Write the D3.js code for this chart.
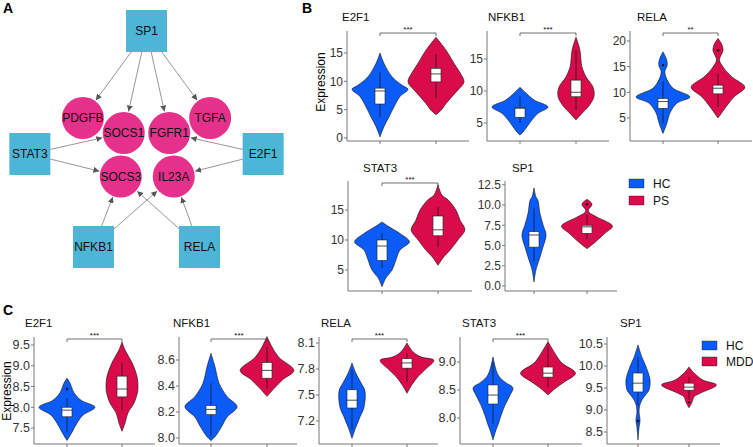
<!DOCTYPE html>
<html><head><meta charset="utf-8">
<script src="https://cdn.jsdelivr.net/npm/d3@7"></script>
<style>
body{margin:0;background:#fff;}
svg{font-family:"Liberation Sans",Arial,sans-serif;}
</style></head>
<body><svg id="c" width="753" height="447"></svg>
<script>
// ---------------- DATA ----------------
// Panel A network
const netNodes = [
  {id:"SP1",type:"tf",gx:0,gy:-4.1},
  {id:"STAT3",type:"tf",gx:-3.85,gy:0},
  {id:"E2F1",type:"tf",gx:3.85,gy:0},
  {id:"NFKB1",type:"tf",gx:-1.75,gy:3.1},
  {id:"RELA",type:"tf",gx:1.75,gy:3.1},
  {id:"PDGFB",type:"target",gx:-2.1,gy:-1.2},
  {id:"SOCS1",type:"target",gx:-0.75,gy:-0.7},
  {id:"FGFR1",type:"target",gx:0.75,gy:-0.7},
  {id:"TGFA",type:"target",gx:2.1,gy:-1.2},
  {id:"SOCS3",type:"target",gx:-0.85,gy:0.75},
  {id:"IL23A",type:"target",gx:0.9,gy:0.75}
];
const netEdges = [
  ["SP1","PDGFB"],["SP1","SOCS1"],["SP1","FGFR1"],["SP1","TGFA"],
  ["STAT3","SOCS1"],["STAT3","SOCS3"],
  ["E2F1","FGFR1"],["E2F1","IL23A"],
  ["NFKB1","SOCS3"],["NFKB1","IL23A"],
  ["RELA","SOCS3"],["RELA","IL23A"]
];

// Violin genes and groups
const genes = ["E2F1","NFKB1","RELA","STAT3","SP1"];
const groupsB = ["HC","PS"];
const groupsC = ["HC","MDD"];

// tick labels
const ticksB = {E2F1:[0,5,10,15],NFKB1:[5,10,15],RELA:[5,10,15,20],STAT3:[5,10,15],SP1:[0,2.5,5,7.5,10,12.5]};
const ticksC = {E2F1:[7.5,8,8.5,9,9.5],NFKB1:[8.0,8.2,8.4,8.6],RELA:[7.2,7.5,7.8,8.1],STAT3:[8.0,8.5,9.0],SP1:[8.5,9,9.5,10,10.5]};

// density profiles [value, relative half-width], top to bottom
const densB = {
  E2F1:{HC:[[15,0],[13.2,0.14],[10.8,0.43],[9.3,0.79],[8.6,1],[7.3,0.71],[5.5,0.5],[3.7,0.32],[2,0.14],[0.2,0]],
        PS:[[17.8,0],[15.5,0.36],[13.2,0.64],[11.5,0.86],[9.9,1],[8.5,0.79],[7.3,0.57],[6.1,0.36],[4.9,0.18],[4.1,0]]},
  NFKB1:{HC:[[10.6,0],[9.8,0.18],[8.6,0.5],[7.5,1],[6.5,0.64],[5.5,0.43],[4.4,0.25],[3.6,0.11],[3.1,0]],
        PS:[[18.4,0],[16.4,0.14],[13.8,0.21],[12.2,0.36],[10.6,0.61],[9.1,0.64],[7.5,0.43],[6.5,0.21],[5.5,0]]},
  RELA:{HC:[[17.9,0],[16.5,0.12],[15.3,0.15],[14.2,0.07],[13.7,0.07],[12.4,0.15],[10.8,0.36],[9.1,0.96],[7.9,0.5],[6,0.25],[4,0.14],[2,0]],
        PS:[[20.5,0],[19.5,0.12],[18.2,0.18],[16.9,0.08],[16.3,0.05],[14.7,0.21],[13,0.5],[11,0.96],[9.1,0.57],[7.2,0.29],[5,0]]},
  STAT3:{HC:[[13,0],[12.2,0.25],[11.1,0.64],[9.7,0.98],[8.3,0.64],[6.7,0.5],[5,0.36],[3.7,0.14],[2.2,0]],
        PS:[[19.2,0],[17.5,0.14],[16.7,0.36],[15,0.64],[13.3,0.79],[11.7,0.96],[10,0.71],[8.3,0.43],[7.2,0.21],[5.8,0]]},
  SP1:{HC:[[12.1,0],[11,0.07],[10.6,0.14],[9,0.21],[7.6,0.32],[6.3,0.43],[4.8,0.32],[3.2,0.18],[2,0.07],[0.5,0]],
        PS:[[10.7,0],[10.1,0.18],[9.4,0.05],[9.1,0.07],[8.5,0.36],[7.4,0.91],[6.5,0.64],[5.4,0.29],[4.6,0]]}
};
const densC = {
  E2F1:{HC:[[8.7,0],[8.58,0.11],[8.35,0.25],[8.17,0.5],[8.0,1],[7.81,0.57],[7.62,0.36],[7.4,0.18],[7.2,0]],
        MDD:[[9.57,0],[9.38,0.11],[9.07,0.36],[8.73,0.54],[8.45,0.57],[8.35,0.55],[8.1,0.43],[7.86,0.21],[7.62,0.11],[7.42,0]]},
  NFKB1:{HC:[[8.65,0],[8.55,0.14],[8.42,0.29],[8.32,0.57],[8.24,0.93],[8.16,0.57],[8.08,0.36],[8.02,0.18],[7.98,0]],
        MDD:[[8.78,0],[8.7,0.18],[8.62,0.43],[8.52,0.96],[8.45,0.57],[8.38,0.25],[8.32,0]]},
  RELA:{HC:[[7.87,0],[7.75,0.14],[7.64,0.32],[7.55,0.46],[7.36,0.43],[7.25,0.29],[7.13,0.14],[7.0,0]],
        MDD:[[8.1,0],[8.0,0.21],[7.94,0.5],[7.9,0.96],[7.79,0.64],[7.7,0.36],[7.62,0.18],[7.52,0]]},
  STAT3:{HC:[[9.09,0],[8.77,0.18],[8.64,0.43],[8.54,0.71],[8.41,0.61],[8.23,0.43],[8.05,0.29],[7.88,0.18],[7.79,0.11],[7.61,0]],
        MDD:[[9.36,0],[9.27,0.11],[9.12,0.29],[8.98,0.5],[8.8,0.98],[8.64,0.57],[8.54,0.29],[8.41,0]]},
  SP1:{HC:[[10.48,0],[10.2,0.14],[9.98,0.29],[9.68,0.43],[9.45,0.39],[9.36,0.29],[9.23,0.14],[9.07,0.05],[8.93,0.04],[8.8,0.07],[8.73,0.07],[8.62,0.04],[8.32,0]],
        MDD:[[9.98,0],[9.84,0.18],[9.68,0.5],[9.57,0.98],[9.39,0.43],[9.3,0.18],[9.18,0.11],[9.05,0]]}
};
// box stats [whiskerLow, q1, median, q3, whiskerHigh]
const boxB = {
  E2F1:{HC:[3.7,6.0,8.3,8.8,11.6],PS:[7.0,9.9,11.3,12.3,14.8]},
  NFKB1:{HC:[5.0,5.9,7.3,7.4,9.1],PS:[7.0,9.1,9.8,11.7,16.4]},
  RELA:{HC:[4.0,6.9,8.2,8.8,12.1],PS:[7.2,9.7,10.8,11.4,13.6]},
  STAT3:{HC:[5.3,6.6,9.0,10.0,11.1],PS:[8.8,10.7,11.7,14.0,15.5]},
  SP1:{HC:[3.0,4.8,6.3,6.7,9.6],PS:[5.8,6.5,7.3,7.5,8.8]}
};
const boxC = {
  E2F1:{HC:[7.4,7.77,7.93,8.0,8.22],MDD:[7.93,8.25,8.44,8.75,9.07]},
  NFKB1:{HC:[8.01,8.18,8.22,8.25,8.42],MDD:[8.38,8.46,8.52,8.58,8.7]},
  RELA:{HC:[7.1,7.35,7.44,7.56,7.79],MDD:[7.65,7.81,7.87,7.92,7.98]},
  STAT3:{HC:[7.9,8.25,8.41,8.59,9.0],MDD:[8.55,8.73,8.8,8.91,9.27]},
  SP1:{HC:[9.1,9.41,9.61,9.84,10.2],MDD:[9.23,9.45,9.52,9.61,9.75]}
};
const outB = {E2F1:{HC:[],PS:[]},NFKB1:{HC:[],PS:[]},RELA:{HC:[15.3],PS:[18.2]},STAT3:{HC:[],PS:[]},SP1:{HC:[],PS:[10.1]}};
const outC = {E2F1:{HC:[8.44],MDD:[]},NFKB1:{HC:[],MDD:[]},RELA:{HC:[],MDD:[]},STAT3:{HC:[],MDD:[]},SP1:{HC:[8.75],MDD:[9.18]}};
const sigB = {E2F1:"***",NFKB1:"***",RELA:"**",STAT3:"***",SP1:""};
const sigC = {E2F1:"***",NFKB1:"***",RELA:"***",STAT3:"***",SP1:""};

// ---------------- LAYOUT ----------------
const BLUE = "#0A5BF7", RED = "#DA0B4A";
const TF_COL = "#4DB5D5", TG_COL = "#E5318B";
const svg = d3.select("#c");

function panelLabel(t,x,y){
  svg.append("text").attr("x",x).attr("y",y).attr("font-size",14).attr("font-weight","bold").text(t);
}
panelLabel("A",3,13); panelLabel("B",302,13); panelLabel("C",3,315);

// ----- Panel A -----
const nx = d3.scaleLinear().domain([0,1]).range([146.5,176.8]);
const ny = d3.scaleLinear().domain([0,1]).range([154,184]);
const BOXW = 41, BOXH = 42, R = 21;
svg.append("defs").append("marker").attr("id","arr").attr("viewBox","0 0 10 10")
  .attr("refX",10).attr("refY",5).attr("markerWidth",6).attr("markerHeight",6)
  .attr("markerUnits","userSpaceOnUse").attr("orient","auto")
  .append("path").attr("d","M0,0L10,5L0,10z").attr("fill","#555");
const nodeMap = {};
netNodes.forEach(n=>{ n.x = nx(n.gx); n.y = ny(n.gy); nodeMap[n.id]=n; });
function rectExit(n, dx, dy){
  const hx = BOXW/2, hy = BOXH/2;
  const t = Math.min(hx/Math.abs(dx||1e-9), hy/Math.abs(dy||1e-9));
  return [n.x+dx*t, n.y+dy*t];
}
const gA = svg.append("g");
netEdges.forEach(([s,t])=>{
  const a = nodeMap[s], b = nodeMap[t];
  const dx = b.x-a.x, dy = b.y-a.y, L = Math.hypot(dx,dy);
  const p0 = rectExit(a,dx,dy);
  const p1 = [b.x-dx/L*(R+1), b.y-dy/L*(R+1)];
  gA.append("line").attr("x1",p0[0]).attr("y1",p0[1]).attr("x2",p1[0]).attr("y2",p1[1])
    .attr("stroke","#8a8a8a").attr("stroke-width",0.9).attr("marker-end","url(#arr)");
});
netNodes.forEach(n=>{
  if(n.type==="tf"){
    gA.append("rect").attr("x",n.x-BOXW/2).attr("y",n.y-BOXH/2).attr("width",BOXW).attr("height",BOXH).attr("fill",TF_COL);
  } else {
    gA.append("circle").attr("cx",n.x).attr("cy",n.y).attr("r",R).attr("fill",TG_COL);
  }
});
netNodes.forEach(n=>{
  gA.append("text").attr("x",n.x).attr("y",n.y+4.3).attr("text-anchor","middle").attr("font-size",12).attr("fill","#111").text(n.id);
});

// ----- Violin panels -----
// layout per panel: y-axis x, x-axis end, calibration (two values -> two pixel rows), axis top/bottom, category x
const layoutB = {
  E2F1:{ax:347,xe:469,v:[0,15],p:[138,53],top:31,bot:141,cx:[380,436],tx:342,ty:21},
  NFKB1:{ax:487,xe:609,v:[5,15],p:[123,59],top:31,bot:141,cx:[520,576],tx:488,ty:21},
  RELA:{ax:630,xe:752,v:[5,20],p:[118,41],top:31,bot:141,cx:[663,718],tx:637,ty:21},
  STAT3:{ax:348,xe:472,v:[5,15],p:[270,210],top:181,bot:291,cx:[382,438],tx:363,ty:172},
  SP1:{ax:505,xe:617,v:[0,10],p:[286,205],top:181,bot:291,cx:[534,587],tx:512,ty:172}
};
const layoutC = {
  E2F1:{ax:34,xe:155,v:[7.5,9.5],p:[428,345],top:337,bot:444,cx:[67,122],tx:25,ty:327},
  NFKB1:{ax:179,xe:297,v:[8.0,8.6],p:[438,360],top:337,bot:444,cx:[211,267],tx:173,ty:327},
  RELA:{ax:319,xe:438,v:[7.2,8.1],p:[421,343],top:337,bot:444,cx:[352,407],tx:321,ty:327},
  STAT3:{ax:460,xe:582,v:[8.0,9.0],p:[418,362],top:337,bot:444,cx:[493,548],tx:462,ty:327},
  SP1:{ax:607,xe:720,v:[8.5,10.5],p:[432,344],top:337,bot:444,cx:[638,689],tx:620,ty:327}
};
const MAXHW = 28, BOXHALF = 5;

function drawViolinPanel(gene, L, groups, dens, box, outs, sig, ticks, fmt, tickSize){
  const y = d3.scaleLinear().domain(L.v).range(L.p);
  const x = d3.scaleOrdinal().domain(groups).range(L.cx);
  const g = svg.append("g");
  const colors = [BLUE, RED];
  groups.forEach((grp,i)=>{
    const cx = x(grp);
    const area = d3.area().curve(d3.curveCatmullRom.alpha(0.5))
      .y(d=>y(d[0])).x0(d=>cx-d[1]*MAXHW).x1(d=>cx+d[1]*MAXHW);
    g.append("path").attr("d",area(dens[gene][grp])).attr("fill",colors[i])
      .attr("stroke","#111").attr("stroke-width",0.6);
    const b = box[gene][grp];
    g.append("line").attr("x1",cx).attr("x2",cx).attr("y1",y(b[0])).attr("y2",y(b[4]))
      .attr("stroke","#111").attr("stroke-width",0.7);
    g.append("rect").attr("x",cx-BOXHALF).attr("width",BOXHALF*2).attr("y",y(b[3])).attr("height",y(b[1])-y(b[3]))
      .attr("fill","#fff").attr("stroke","#222").attr("stroke-width",0.6);
    g.append("line").attr("x1",cx-BOXHALF).attr("x2",cx+BOXHALF).attr("y1",y(b[2])).attr("y2",y(b[2]))
      .attr("stroke","#222").attr("stroke-width",0.8);
    outs[gene][grp].forEach(o=>{
      g.append("circle").attr("cx",cx).attr("cy",y(o)).attr("r",1.2).attr("fill","#111");
    });
  });
  // axes
  g.append("line").attr("x1",L.ax).attr("x2",L.ax).attr("y1",L.top).attr("y2",L.bot).attr("stroke","#777").attr("stroke-width",1);
  g.append("line").attr("x1",L.ax).attr("x2",L.xe).attr("y1",L.bot).attr("y2",L.bot).attr("stroke","#777").attr("stroke-width",1);
  ticks[gene].forEach(t=>{
    g.append("line").attr("x1",L.ax-3).attr("x2",L.ax).attr("y1",y(t)).attr("y2",y(t)).attr("stroke","#777");
    g.append("text").attr("x",L.ax-4).attr("y",y(t)+4.3).attr("text-anchor","end").attr("font-size",tickSize)
      .attr("fill","#333").text(fmt(t));
  });
  groups.forEach(grp=>{
    g.append("line").attr("x1",x(grp)).attr("x2",x(grp)).attr("y1",L.bot).attr("y2",L.bot+3).attr("stroke","#777");
  });
  // title
  g.append("text").attr("x",L.tx).attr("y",L.ty).attr("font-size",11.5).attr("fill","#111").text(gene);
  // significance bracket
  if(sig[gene]){
    const by = L.top+2, x0 = x(groups[0]), x1 = x(groups[1]);
    g.append("path").attr("d",`M${x0},${by+3}V${by}H${x1}V${by+3}`).attr("fill","none").attr("stroke","#333").attr("stroke-width",0.7);
    g.append("text").attr("x",(x0+x1)/2).attr("y",by-1).attr("text-anchor","middle").attr("font-size",8).attr("fill","#111").text(sig[gene]);
  }
}
const fmtB = g => (g===0?"0":d3.format("~g")(g));
genes.forEach(gn=>{
  const f = gn==="SP1" ? d3.format(".1f") : d3.format("d");
  drawViolinPanel(gn, layoutB[gn], groupsB, densB, boxB, outB, sigB, ticksB, f, 12);
  drawViolinPanel(gn, layoutC[gn], groupsC, densC, boxC, outC, sigC, ticksC, d3.format(".1f"), 12.5);
});
// y labels
svg.append("text").attr("transform","translate(325,82) rotate(-90)").attr("text-anchor","middle").attr("font-size",12).text("Expression");
svg.append("text").attr("transform","translate(11,391) rotate(-90)").attr("text-anchor","middle").attr("font-size",12).text("Expression");

// legends
function legend(x0,y0,items,gap){
  items.forEach((it,i)=>{
    svg.append("rect").attr("x",x0).attr("y",y0+i*gap).attr("width",15).attr("height",9).attr("fill",[BLUE,RED][i]).attr("stroke","#222").attr("stroke-width",0.4);
    svg.append("text").attr("x",x0+24).attr("y",y0+i*gap+8.5).attr("font-size",12).attr("fill","#111").text(it);
  });
}
legend(629,179,groupsB,17);
legend(702,341,groupsC,16);
</script></body></html>
